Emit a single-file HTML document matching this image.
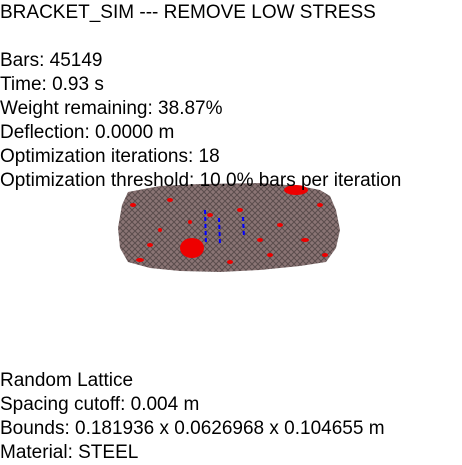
<!DOCTYPE html>
<html><head><meta charset="utf-8"><style>
html,body{margin:0;padding:0;background:#fff;width:462px;height:465px;overflow:hidden}
.t{position:absolute;left:0px;font-family:"Liberation Sans",sans-serif;font-size:19px;color:#000;white-space:nowrap;line-height:20px}
svg{position:absolute;left:0;top:0}
</style></head><body>
<svg width="462" height="465">
<defs><pattern id="p" width="6" height="6" patternUnits="userSpaceOnUse"><rect width="6" height="6" fill="#8a7474"/><path d="M0 6L6 0M0 0L6 6" stroke="#5a4c4c" stroke-width="1"/></pattern></defs>
<polygon fill="url(#p)" points="128,192 160,186 200,184 260,183 300,186 320,190 330,196 336,210 340,230 336,248 326,262 300,266 260,270 220,272 180,271 150,268 128,262 120,248 118,228 122,205"/>
<g fill="#e00">
<ellipse cx="192" cy="248" rx="12" ry="10"/><ellipse cx="296" cy="190" rx="12" ry="5"/>
<ellipse cx="133" cy="205" rx="3" ry="2"/><ellipse cx="150" cy="245" rx="3" ry="2"/><ellipse cx="210" cy="215" rx="3" ry="2"/>
<ellipse cx="240" cy="210" rx="3" ry="2"/><ellipse cx="260" cy="240" rx="3" ry="2"/><ellipse cx="280" cy="225" rx="3" ry="2"/>
<ellipse cx="305" cy="240" rx="4" ry="2"/><ellipse cx="320" cy="205" rx="3" ry="2"/><ellipse cx="170" cy="200" rx="3" ry="2"/>
<ellipse cx="230" cy="262" rx="3" ry="2"/><ellipse cx="140" cy="260" rx="4" ry="2"/><ellipse cx="325" cy="255" rx="3" ry="2"/>
<ellipse cx="190" cy="222" rx="2" ry="2"/><ellipse cx="270" cy="255" rx="3" ry="2"/><ellipse cx="160" cy="230" rx="2" ry="2"/>
</g>
<g stroke="#00f" stroke-width="2" stroke-dasharray="4,3">
<line x1="205" y1="210" x2="206" y2="245"/><line x1="219" y1="218" x2="220" y2="245"/><line x1="243" y1="217" x2="244" y2="238"/>
</g>
</svg>
<div class="t" style="top:3px">BRACKET_SIM --- REMOVE LOW STRESS</div>
<div class="t" style="top:51px">Bars: 45149</div>
<div class="t" style="top:75px">Time: 0.93 s</div>
<div class="t" style="top:99px">Weight remaining: 38.87%</div>
<div class="t" style="top:123px">Deflection: 0.0000 m</div>
<div class="t" style="top:147px">Optimization iterations: 18</div>
<div class="t" style="top:171px">Optimization threshold: 10.0% bars per iteration</div>
<div class="t" style="top:371px">Random Lattice</div>
<div class="t" style="top:395px">Spacing cutoff: 0.004 m</div>
<div class="t" style="top:419px">Bounds: 0.181936 x 0.0626968 x 0.104655 m</div>
<div class="t" style="top:443px">Material: STEEL</div>
</body></html>
